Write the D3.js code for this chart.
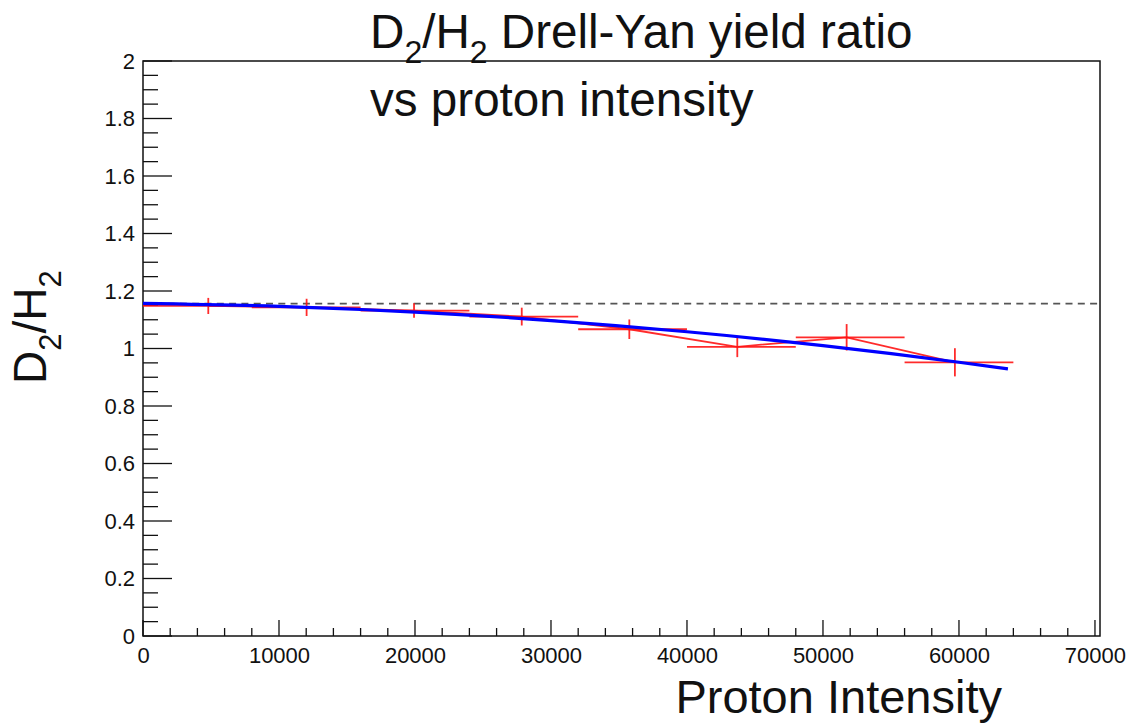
<!DOCTYPE html>
<html>
<head>
<meta charset="utf-8">
<script src="https://cdn.jsdelivr.net/npm/d3@7"></script>
<style>
  html, body { margin: 0; padding: 0; background: #fff; }
  svg { display: block; }
  text { font-family: "Liberation Sans", Arial, Helvetica, sans-serif; fill: #111; }
</style>
</head>
<body>
<svg id="chart" width="1128" height="724"></svg>
<script>
// Mean proton intensity in each intensity bin and the measured D2/H2 ratio
const intensity   = [4800, 12030, 19930, 27850, 35760, 43700, 51740, 59700];
const binLow      = [0, 8000, 16000, 24000, 32000, 40000, 48000, 56000];
const binHigh     = [8000, 16000, 24000, 32000, 40000, 48000, 56000, 64000];
const ratio       = [1.148, 1.143, 1.132, 1.111, 1.067, 1.006, 1.039, 0.952];
const ratioErr    = [0.028, 0.030, 0.025, 0.031, 0.034, 0.036, 0.046, 0.049];

// Fitted curve sampled along the intensity range
const fitX = [0, 10000, 20000, 30000, 40000, 50000, 60000, 63600];
const fitY = [1.157, 1.1465, 1.1266, 1.0972, 1.0583, 1.010, 0.9522, 0.929];

// Zero-intensity extrapolation of the ratio
const zeroIntensityRatio = 1.156;

const xTicks = [0, 10000, 20000, 30000, 40000, 50000, 60000, 70000];
const yTicks = [0, 0.2, 0.4, 0.6, 0.8, 1, 1.2, 1.4, 1.6, 1.8, 2];

const svg = d3.select("#chart");
const plotL = 143, plotR = 1100, plotT = 61, plotB = 636;

const x = d3.scaleLinear().domain([0, 70370]).range([plotL, plotR]);
const y = d3.scaleLinear().domain([0, 2]).range([plotB, plotT]);

// Frame
svg.append("rect")
  .attr("x", plotL).attr("y", plotT)
  .attr("width", plotR - plotL).attr("height", plotB - plotT)
  .attr("fill", "none").attr("stroke", "#111").attr("stroke-width", 1.5);

// Y axis: major every 0.2, minor every 0.05
const yMinor = d3.range(0, 2.0001, 0.05).filter(v => Math.abs(v * 5 - Math.round(v * 5)) > 1e-6);
const yAxis = d3.axisLeft(y).tickValues(yTicks).tickSize(0).tickPadding(8)
  .tickFormat(d => d3.format("~g")(d));
const gy = svg.append("g").attr("transform", `translate(${plotL},0)`).call(yAxis);
gy.select(".domain").remove();
gy.selectAll("text").style("font-size", "22px").attr("fill", "#111");
svg.append("g").selectAll("line").data(yTicks).join("line")
  .attr("x1", plotL).attr("x2", plotL + 29)
  .attr("y1", d => y(d)).attr("y2", d => y(d))
  .attr("stroke", "#111").attr("stroke-width", 1.3);
svg.append("g").selectAll("line").data(yMinor).join("line")
  .attr("x1", plotL).attr("x2", plotL + 15)
  .attr("y1", d => y(d)).attr("y2", d => y(d))
  .attr("stroke", "#111").attr("stroke-width", 1.3);

// X axis: major every 10000, minor every 2000
const xMinor = d3.range(2000, 70001, 2000).filter(v => v % 10000 !== 0);
const xAxis = d3.axisBottom(x).tickValues(xTicks).tickSize(0).tickPadding(11)
  .tickFormat(d3.format("d"));
const gx = svg.append("g").attr("transform", `translate(0,${plotB})`).call(xAxis);
gx.select(".domain").remove();
gx.selectAll("text").style("font-size", "22px").attr("fill", "#111");
svg.append("g").selectAll("line").data(xTicks).join("line")
  .attr("x1", d => x(d)).attr("x2", d => x(d))
  .attr("y1", plotB).attr("y2", plotB - 16)
  .attr("stroke", "#111").attr("stroke-width", 1.3);
svg.append("g").selectAll("line").data(xMinor).join("line")
  .attr("x1", d => x(d)).attr("x2", d => x(d))
  .attr("y1", plotB).attr("y2", plotB - 8)
  .attr("stroke", "#111").attr("stroke-width", 1.3);

// Dashed reference line at the zero-intensity ratio
svg.append("line")
  .attr("x1", plotL).attr("x2", plotR)
  .attr("y1", y(zeroIntensityRatio)).attr("y2", y(zeroIntensityRatio))
  .attr("stroke", "#555").attr("stroke-width", 1.6)
  .attr("stroke-dasharray", "7,5.3");

// Measured points: connecting line and error bars
const pts = intensity.map((xi, i) => ({
  x: xi, y: ratio[i], lo: binLow[i], hi: binHigh[i], e: ratioErr[i]
}));
const red = "rgba(255,20,20,0.9)";
svg.append("path").datum(pts)
  .attr("d", d3.line().x(d => x(d.x)).y(d => y(d.y)))
  .attr("fill", "none").attr("stroke", red).attr("stroke-width", 1.8);
const eb = svg.append("g").selectAll("g").data(pts).join("g");
eb.append("line")
  .attr("x1", d => x(d.lo)).attr("x2", d => x(d.hi))
  .attr("y1", d => y(d.y)).attr("y2", d => y(d.y))
  .attr("stroke", red).attr("stroke-width", 1.8);
eb.append("line")
  .attr("x1", d => x(d.x)).attr("x2", d => x(d.x))
  .attr("y1", d => y(d.y - d.e)).attr("y2", d => y(d.y + d.e))
  .attr("stroke", red).attr("stroke-width", 1.8);

// Fit curve
svg.append("path").datum(fitX.map((v, i) => [v, fitY[i]]))
  .attr("d", d3.line().x(d => x(d[0])).y(d => y(d[1])).curve(d3.curveMonotoneX))
  .attr("fill", "none").attr("stroke", "#0000ff").attr("stroke-width", 3.2);

// Title
const t1 = svg.append("text").attr("x", 370).attr("y", 48).style("font-size", "47.6px");
t1.append("tspan").text("D");
t1.append("tspan").attr("dy", 15).style("font-size", "32px").text("2");
t1.append("tspan").attr("dy", -15).text("/H");
t1.append("tspan").attr("dy", 15).style("font-size", "32px").text("2");
t1.append("tspan").attr("dy", -15).text(" Drell-Yan yield ratio");
svg.append("text").attr("x", 370).attr("y", 116).style("font-size", "47.6px")
  .text("vs proton intensity");

// Axis titles
svg.append("text").attr("x", 1002).attr("y", 713)
  .attr("text-anchor", "end").style("font-size", "47px")
  .text("Proton Intensity");
const yt = svg.append("text")
  .attr("transform", "translate(46,384) rotate(-90)")
  .style("font-size", "46px");
yt.append("tspan").text("D");
yt.append("tspan").attr("dy", 15).style("font-size", "31px").text("2");
yt.append("tspan").attr("dy", -15).text("/H");
yt.append("tspan").attr("dy", 15).style("font-size", "31px").text("2");
</script>
</body>
</html>
